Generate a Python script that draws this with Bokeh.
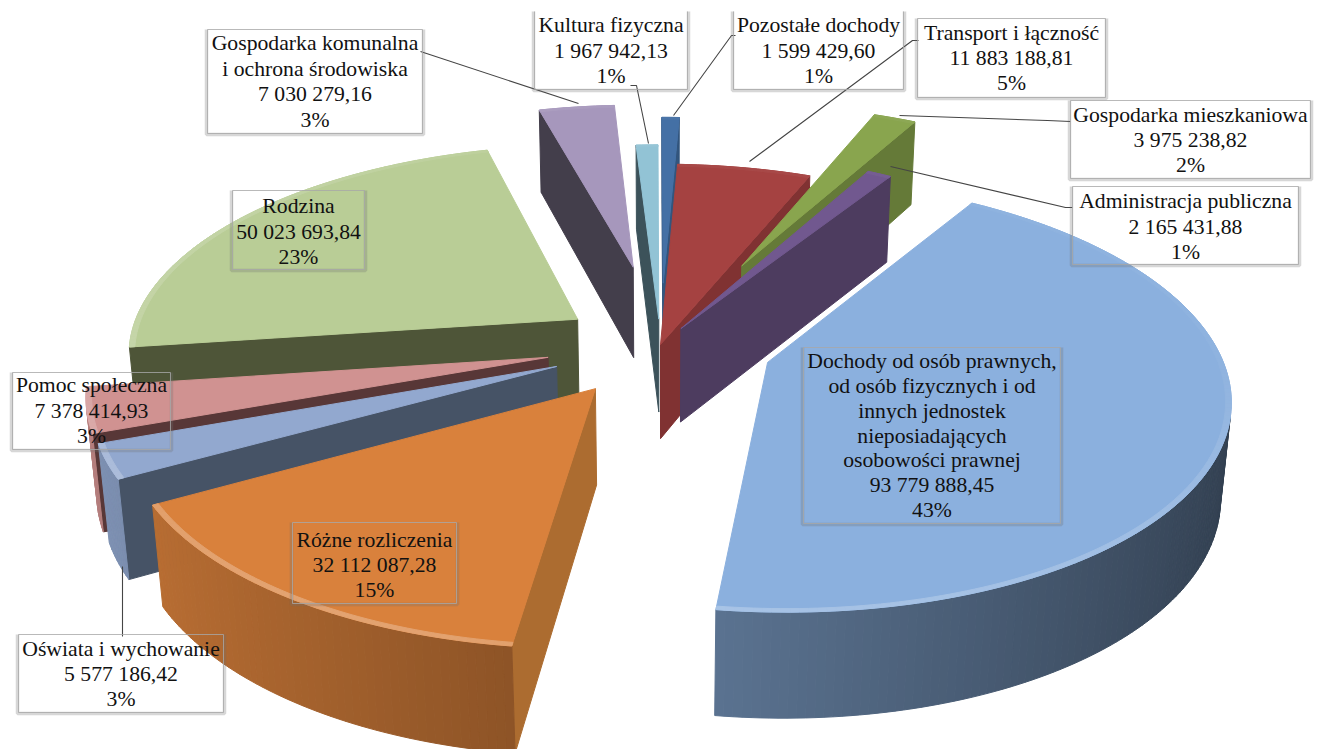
import numpy as np
from bokeh.plotting import figure
from bokeh.models import Range1d
from bokeh.core.properties import value as fval
from bokeh.embed import file_html
from bokeh.resources import INLINE

# ---- data ----
categories = ["Pozostałe dochody", "Transport i łączność", "Gospodarka mieszkaniowa",
              "Administracja publiczna",
              "Dochody od osób prawnych, od osób fizycznych i od innych jednostek nieposiadających osobowości prawnej",
              "Różne rozliczenia", "Oświata i wychowanie", "Pomoc społeczna", "Rodzina",
              "Gospodarka komunalna i ochrona środowiska", "Kultura fizyczna"]
values = [1599429.60, 11883188.81, 3975238.82, 2165431.88, 93779888.45, 32112087.28,
          5577186.42, 7378414.93, 50023693.84, 7030279.16, 1967942.13]
value_labels = ["1 599 429,60", "11 883 188,81", "3 975 238,82", "2 165 431,88", "93 779 888,45",
                "32 112 087,28", "5 577 186,42", "7 378 414,93", "50 023 693,84", "7 030 279,16",
                "1 967 942,13"]
pct_labels = ["1%", "5%", "2%", "1%", "43%", "15%", "3%", "3%", "23%", "3%", "1%"]
name_lines = [["Pozostałe dochody"], ["Transport i łączność"], ["Gospodarka mieszkaniowa"],
              ["Administracja publiczna"],
              ["Dochody od osób prawnych,", "od osób fizycznych i od", "innych jednostek",
               "nieposiadających", "osobowości prawnej"],
              ["Różne rozliczenia"], ["Oświata i wychowanie"], ["Pomoc społeczna"], ["Rodzina"],
              ["Gospodarka komunalna", "i ochrona środowiska"], ["Kultura fizyczna"]]

# ---- style: per-slice explosion, colours ----
explode = [.31, .0, .445, .09, .25, .25, .25, .255, .225, .40, .125]
top_colors = [(68, 112, 165), (165, 66, 65), (137, 165, 78), (113, 88, 143), (139, 176, 222),
              (217, 129, 60), (146, 168, 207), (208, 146, 145), (185, 205, 150), (166, 151, 188),
              (146, 195, 213)]
face_colors = [(50, 85, 125), (128, 50, 50), (101, 122, 56), (77, 60, 95), (70, 90, 115),
               (172, 108, 48), (70, 83, 102), (88, 55, 55), (78, 85, 56), (67, 62, 75),
               (60, 82, 90)]
draw_order = [0, 10, 9, 1, 2, 3, 4, 8, 7, 6, 5]

# ---- layout ----
CX, CY, SCALE, DIST, SIN_T, THICK = 660, 344, 2700, 6.0, .46, .24
FIRST_ANGLE = -0.15
COS_T = np.sqrt(1 - SIN_T ** 2)
box_x0 = [733, 917, 1070, 1072, 803, 292, 18, 12, 232, 207, 534]
box_x1 = [903, 1105, 1310, 1298, 1060, 456, 223, 170, 364, 422, 687]
box_y0 = [11, 18, 100, 186, 347, 522, 634, 372, 190, 29, 11]
box_y1 = [89, 97, 178, 264, 523, 603, 712, 449, 269, 133, 89]
text_top = [24.6, 32.1, 114, 200.6, 360.3, 539.1, 648, 384.6, 205.6, 42.9, 24.6]
text_step = [25.4, 25.4, 25.4, 25.4, 24.9, 25.4, 25.4, 25.4, 25.4, 25.4, 25.4]
leaders = [[(735, 35), (731, 35), (673, 115)],
           [(918, 40), (912, 40), (749, 161)],
           [(1070, 121), (1047, 120), (899, 115)],
           [(1072, 207), (1065, 207), (890, 166)],
           [(122, 566), (122, 636)],
           [(420, 51), (578, 103)],
           [(630, 85), (636, 85), (648, 143)]]


def proj(x, y, z):
    x, y, z = np.asarray(x, float), np.asarray(y, float), np.asarray(z, float)
    d = DIST + y * COS_T - z * SIN_T
    return CX + SCALE * x / d, CY - SCALE * (y * SIN_T + z * COS_T) / d


def rgb(c, f=1.0):
    return "#%02x%02x%02x" % tuple(int(np.clip(v * f, 0, 255)) for v in c)


def mix(c, m):
    return tuple(v + (255 - v) * m for v in c)


total = sum(values)
edges = np.concatenate([[0], np.cumsum(values)]) / total * 2 * np.pi + np.radians(FIRST_ANGLE)
cam = np.array([0, -DIST * COS_T, DIST * SIN_T])

px, py, pc = [], [], []


def add(xs, ys, zs, col):
    a, b = proj(xs, ys, zs)
    px.append(list(a)); py.append(list(b)); pc.append(col)


for i in draw_order:
    a0, a1 = edges[i], edges[i + 1]
    mid = (a0 + a1) / 2
    ax, ay = explode[i] * np.sin(mid), explode[i] * np.cos(mid)
    n = max(2, int((a1 - a0) / np.radians(1)) + 1)
    ang = np.linspace(a0, a1, n + 1)
    ox, oy = ax + np.sin(ang), ay + np.cos(ang)
    ix, iy = ax + .988 * np.sin(ang), ay + .988 * np.cos(ang)
    # radial faces
    nrm0 = np.array([-np.cos(a0), np.sin(a0), 0])
    nrm1 = np.array([np.cos(a1), -np.sin(a1), 0])
    apex = np.array([ax, ay, 0])
    if nrm0 @ (cam - apex) > 0:
        add([ax, ox[0], ox[0], ax], [ay, oy[0], oy[0], ay], [0, 0, -THICK, -THICK], rgb(face_colors[i]))
    if nrm1 @ (cam - apex) > 0:
        add([ax, ox[-1], ox[-1], ax], [ay, oy[-1], oy[-1], ay], [0, 0, -THICK, -THICK], rgb(face_colors[i]))
    # outer wall, strip by strip, shaded by direction
    for k in range(n):
        am = (ang[k] + ang[k + 1]) / 2
        nr = np.array([np.sin(am), np.cos(am), 0])
        pm = np.array([ax + np.sin(am), ay + np.cos(am), 0])
        if nr @ (cam - pm) > 0:
            f = .62 - .26 * np.sin(am)
            add([ox[k], ox[k + 1], ox[k + 1], ox[k]], [oy[k], oy[k + 1], oy[k + 1], oy[k]],
                [0, 0, -THICK, -THICK], rgb(top_colors[i], f))
    # top
    add(np.r_[ax, ox], np.r_[ay, oy], np.zeros(n + 2), rgb(top_colors[i]))
    # light bevel along the rim, strongest at the front left
    for k in range(n):
        am = (ang[k] + ang[k + 1]) / 2
        m = .04 + .2 * max(0, -np.cos(am)) + .12 * max(0, -np.sin(am))
        add([ix[k], ix[k + 1], ox[k + 1], ox[k]], [iy[k], iy[k + 1], oy[k + 1], oy[k]], np.zeros(4),
            rgb(mix(top_colors[i], m)))

p = figure(width=1325, height=749, x_range=Range1d(0, 1325), y_range=Range1d(749, 0),
           output_backend="svg", toolbar_location=None, min_border=0, outline_line_color=None)
p.axis.visible = False
p.grid.visible = False

p.patches(px, py, fill_color=pc, line_color=pc, line_width=1)

# leaders
p.multi_line([[q[0] for q in l] for l in leaders], [[q[1] for q in l] for l in leaders],
             line_color="#454545", line_width=1.1)

# label boxes
shx, shy, bx, by = [], [], [], []
for i in range(len(categories)):
    x0, x1, y0, y1 = box_x0[i], box_x1[i], box_y0[i], box_y1[i]
    if i in (0, 10):
        bx.append([x0, x0, x1, x1]); by.append([y0, y1, y1, y0])
    else:
        bx.append([x0, x0, x1, x1, x0]); by.append([y0, y1, y1, y0, y0])
    shx.append([x0 - 1, x0 - 1, x1 + 1, x1 + 1]); shy.append([y0, y1 + 1, y1 + 1, y0])
p.multi_line(shx, shy, line_color="#707070", line_alpha=.28, line_width=3.5)
p.multi_line(bx, by, line_color="#a8a8a8", line_alpha=.8, line_width=1)

# texts
tx, ty, tt = [], [], []
for i in range(len(categories)):
    lines = name_lines[i] + [value_labels[i], pct_labels[i]]
    cx = (box_x0[i] + box_x1[i]) / 2
    for k, t in enumerate(lines):
        tx.append(cx); ty.append(text_top[i] + k * text_step[i]); tt.append(t)
p.text(tx, ty, text=tt, text_font=fval("Liberation Serif"), text_font_size="21.7px",
       text_align="center", text_baseline="middle", text_color="#111111")

open("out.html", "w").write(file_html(p, INLINE))
